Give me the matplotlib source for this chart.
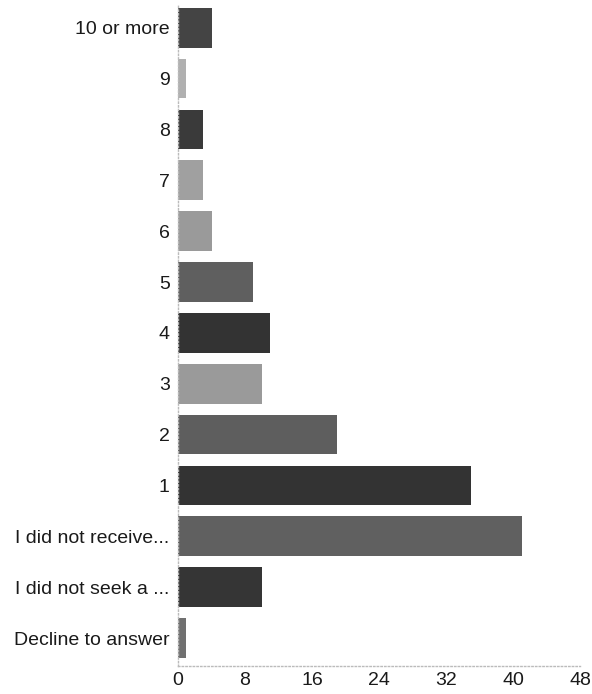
import matplotlib
matplotlib.use('Agg')
import matplotlib.pyplot as plt

# categories from bottom to top
categories = ['Decline to answer', 'I did not seek a ...', 'I did not receive...',
              '1', '2', '3', '4', '5', '6', '7', '8', '9', '10 or more']
counts = [1, 10, 41, 35, 19, 10, 11, 9, 4, 3, 3, 1, 4]
bar_colors = ['#707070', '#353535', '#606060', '#333333', '#5e5e5e', '#9a9a9a',
              '#333333', '#5f5f5f', '#9a9a9a', '#a0a0a0', '#3a3a3a', '#b0b0b0', '#444444']
x_ticks = [0, 8, 16, 24, 32, 40, 48]

plt.rcParams['font.family'] = ['Liberation Sans', 'DejaVu Sans']

fig = plt.figure(figsize=(5.92, 6.94), dpi=100)
ax = fig.add_axes([0.3007, 0.0403, 0.6793, 0.952])

ypos = list(range(len(categories)))
ax.barh(ypos, counts, height=0.78, color=bar_colors)

ax.set_xlim(0, 48)
ax.set_ylim(-0.55, 12.44)
ax.set_yticks(ypos)
ax.set_yticklabels(categories, fontsize=14, color='#1a1a1a')
ax.set_xticks(x_ticks)
ax.set_xticklabels([str(t) for t in x_ticks], fontsize=14, color='#1a1a1a')

ax.tick_params(axis='both', length=0)
ax.tick_params(axis='y', pad=6)
ax.tick_params(axis='x', pad=4)

for side in ['top', 'right']:
    ax.spines[side].set_visible(False)
for side in ['left', 'bottom']:
    ax.spines[side].set_color('#bbbbbb')
    ax.spines[side].set_linestyle(':')
    ax.spines[side].set_linewidth(1)

plt.savefig('out.png', dpi=100)
